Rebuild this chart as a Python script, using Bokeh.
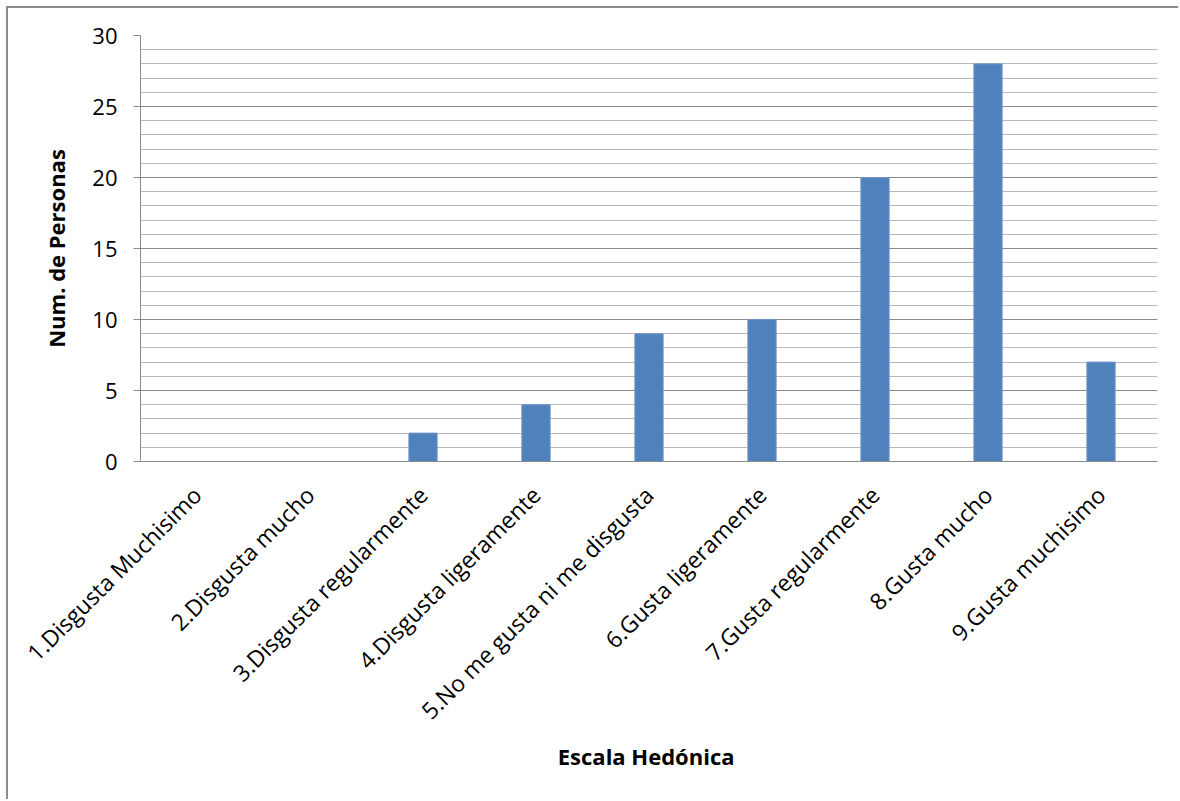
from bokeh.plotting import figure
from bokeh.models import SingleIntervalTicker, Range1d, ColumnDataSource
from bokeh.embed import file_html
from bokeh.resources import INLINE
import math

categories = ["1.Disgusta Muchisimo", "2.Disgusta mucho", "3.Disgusta regularmente",
              "4.Disgusta ligeramente", "5.No me gusta ni me disgusta", "6.Gusta ligeramente",
              "7.Gusta regularmente", "8.Gusta mucho", "9.Gusta muchisimo"]
personas = [0, 0, 2, 4, 9, 10, 20, 28, 7]

FONT = "Open Sans"

p = figure(x_range=categories, y_range=Range1d(0, 30), width=1172, height=793,
           output_backend="svg", toolbar_location=None,
           min_border_left=132, min_border_right=23, min_border_top=27, min_border_bottom=340)
p.styles = {"margin-left": "6px", "margin-top": "6px",
            "border-left": "2px solid #8c8c8c", "border-top": "2px solid #8c8c8c"}

src = ColumnDataSource(dict(cat=categories, val=personas))
p.vbar(x="cat", top="val", width=0.25, source=src, fill_color="#4F81BD",
       line_color="#6f96c8", line_width=1)

p.outline_line_color = None
p.background_fill_color = "white"
p.border_fill_color = "white"

p.yaxis.ticker = SingleIntervalTicker(interval=5, num_minor_ticks=5)
p.ygrid.grid_line_color = "#8a8a8a"
p.ygrid.grid_line_width = 1.2
p.ygrid.minor_grid_line_color = "#b8b8b8"
p.ygrid.minor_grid_line_width = 1.2
p.xgrid.grid_line_color = None

p.yaxis.axis_line_color = "#8a8a8a"
p.yaxis.major_tick_line_color = "#8a8a8a"
p.yaxis.major_tick_out = 7
p.yaxis.major_tick_in = 0
p.yaxis.minor_tick_line_color = None
p.yaxis.major_label_text_font = FONT
p.yaxis.major_label_text_font_size = "22px"
p.yaxis.major_label_text_color = "black"
p.yaxis.major_label_standoff = 16
p.yaxis.axis_label = "Num. de Personas"
p.yaxis.axis_label_text_font = FONT
p.yaxis.axis_label_text_font_style = "bold"
p.yaxis.axis_label_text_font_size = "22px"
p.yaxis.axis_label_text_color = "black"
p.yaxis.axis_label_standoff = 18

p.xaxis.axis_line_color = "#8a8a8a"
p.xaxis.major_tick_line_color = None
p.xaxis.major_tick_out = 0
p.xaxis.major_tick_in = 0
p.xaxis.major_label_orientation = math.pi / 4
p.xaxis.major_label_text_font = FONT
p.xaxis.major_label_text_font_size = "23px"
p.xaxis.major_label_text_color = "black"
p.xaxis.major_label_standoff = 29
p.xaxis.axis_label = "Escala  Hedónica"
p.xaxis.axis_label_text_font = FONT
p.xaxis.axis_label_text_font_style = "bold"
p.xaxis.axis_label_text_font_size = "22px"
p.xaxis.axis_label_text_color = "black"
p.xaxis.axis_label_standoff = 1

open("out.html", "w").write(file_html(p, INLINE))
